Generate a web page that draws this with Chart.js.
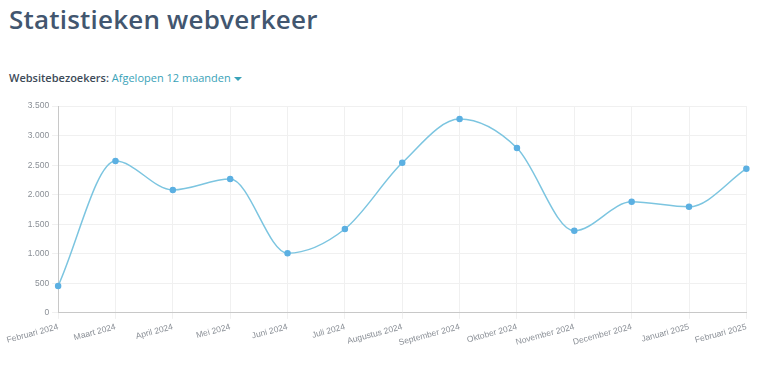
<!DOCTYPE html>
<html lang="nl">
<head>
<meta charset="UTF-8" />
<title>Statistieken webverkeer</title>
<script src="https://cdn.jsdelivr.net/npm/chart.js"></script>
<style>
  body { margin: 0; background: #fff; font-family: "Open Sans", "Noto Sans", sans-serif; width: 768px; height: 369px; overflow: hidden; position: relative; }
  h1 { position: absolute; left: 9px; top: 1px; margin: 0; font-size: 26px; font-weight: 600; color: #42566f; letter-spacing: 0.2px; }
  .sub { position: absolute; left: 9px; top: 70px; font-size: 11px; color: #444; }
  .sub b { font-weight: 600; color: #3d4a57; }
  .sub span { color: #3aa2b8; }
  .caret { display: inline-block; width: 0; height: 0; border-left: 4px solid transparent; border-right: 4px solid transparent; border-top: 4px solid #3aa2b8; vertical-align: middle; margin-left: 3px; }
  #wrap { position: absolute; left: 4px; top: 98px; width: 748px; height: 253px; }
</style>
</head>
<body>
<h1>Statistieken webverkeer</h1>
<div class="sub"><b>Websitebezoekers:</b> <span>Afgelopen 12 maanden</span><i class="caret"></i></div>
<div id="wrap"><canvas id="visitors"></canvas></div>
<script>
  const months = ['Februari 2024', 'Maart 2024', 'April 2024', 'Mei 2024', 'Juni 2024', 'Juli 2024',
    'Augustus 2024', 'September 2024', 'Oktober 2024', 'November 2024', 'December 2024', 'Januari 2025', 'Februari 2025'];
  const visitors = [455, 2570, 2080, 2265, 1010, 1420, 2540, 3280, 2790, 1390, 1880, 1795, 2440];

  const ctx = document.getElementById('visitors').getContext('2d');
  new Chart(ctx, {
    type: 'line',
    data: {
      labels: months,
      datasets: [{
        label: 'Websitebezoekers',
        data: visitors,
        borderColor: '#7cc5e0',
        backgroundColor: '#5cb0e2',
        pointBackgroundColor: '#5cb0e2',
        pointBorderColor: '#5cb0e2',
        pointRadius: 2.5,
        borderWidth: 1.5,
        cubicInterpolationMode: 'monotone',
        fill: false
      }]
    },
    options: {
      responsive: true,
      maintainAspectRatio: false,
      animation: false,
      locale: 'nl-NL',
      plugins: { legend: { display: false }, tooltip: { enabled: false } },
      scales: {
        x: {
          grid: { color: '#f0f0f0', tickLength: 6 },
          border: { color: '#c8c8c8' },
          ticks: { color: '#8a8f96', font: { size: 8.5, family: 'Liberation Sans, Arial' }, maxRotation: 15, minRotation: 15, autoSkip: false }
        },
        y: {
          min: 0,
          max: 3500,
          grid: { color: '#f0f0f0', tickLength: 6 },
          border: { color: '#c8c8c8' },
          ticks: { stepSize: 500, color: '#8a8f96', font: { size: 8.5, family: 'Liberation Sans, Arial' } }
        }
      }
    }
  });
</script>
</body>
</html>
